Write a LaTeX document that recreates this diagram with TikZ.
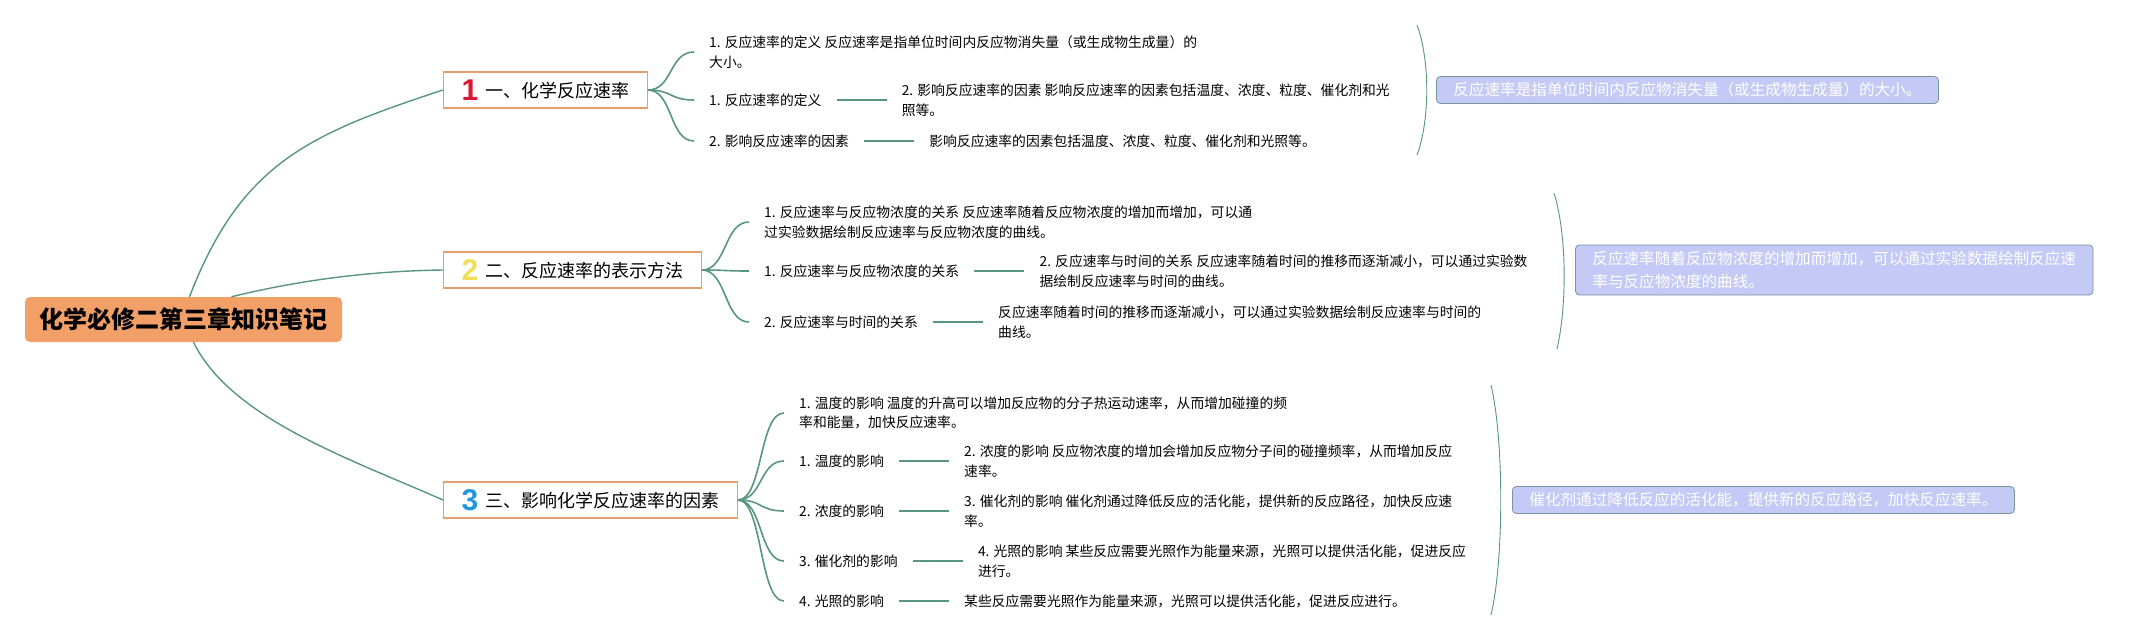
\documentclass[tikz,border=0pt]{standalone}
\usepackage{fontspec}
\setmainfont{Noto Sans CJK SC}
\newfontfamily\numfont{Liberation Sans}
\usetikzlibrary{positioning}

\definecolor{linkgreen}{RGB}{88,150,128}
\definecolor{topicorange}{RGB}{232,158,108}
\definecolor{rootorange}{RGB}{242,160,104}
\definecolor{sumfill}{RGB}{196,202,245}
\definecolor{sumdraw}{RGB}{118,150,158}
\definecolor{numred}{RGB}{222,24,52}
\definecolor{numyellow}{RGB}{242,222,86}
\definecolor{numblue}{RGB}{34,150,220}

\def\childsep{50pt}
\newcommand{\topicnum}[2]{\raisebox{-3pt}{\numfont\bfseries\fontsize{30}{30}\selectfont\color{#1}#2}\hspace{7pt}}

\begin{document}
\begin{tikzpicture}[x=1pt, y=-1pt, node distance=\childsep]
		\tikzstyle{root}
		=[rounded corners=5pt, fill=rootorange, minimum width=317pt, minimum height=45pt, font=\fontsize{24}{28}\selectfont\bfseries]
		\tikzstyle{topic}
		=[draw=topicorange, line width=1.2pt, fill=white, anchor=west, minimum height=36pt, inner xsep=18pt, font=\fontsize{18}{22}\selectfont]
		\tikzstyle{child}
		=[anchor=west, inner xsep=15pt, inner ysep=1pt, align=left, font=\fontsize{13.8}{19.5}\selectfont]
		\tikzstyle{summary}
		=[anchor=west, fill=sumfill, draw=sumdraw, line width=0.8pt, rounded corners=4pt, text=white, inner xsep=17pt, inner ysep=6pt, minimum height=27pt, align=left, font=\fontsize{15.6}{23.5}\selectfont]
		\tikzstyle{trunk}
		=[draw=linkgreen, line width=1.4pt]
		\tikzstyle{branch}
		=[draw=linkgreen, line width=1.6pt]
		\tikzstyle{bar}
		=[draw=linkgreen, line width=2.6pt]
		\tikzstyle{brace}
		=[draw=linkgreen, line width=0.9pt]
		
		\fill[white] (0,0) rectangle (2146,640);
		\useasboundingbox (0,0) rectangle (2146,640);
		
		% Draw the root and the main topics
		\node[root] (root) at (183.5,319.5) {化学必修二第三章知识笔记};
		\node[topic] (t1) at (443,90) {\topicnum{numred}{1}一、化学反应速率};
		\node[topic] (t2) at (443,270) {\topicnum{numyellow}{2}二、反应速率的表示方法};
		\node[topic] (t3) at (443,500) {\topicnum{numblue}{3}三、影响化学反应速率的因素};
		
		% Connect the root with every main topic
		\draw[trunk] ([xshift=6pt]root.north) .. controls (241,163) and (309,134) .. (t1.west);
		\draw[trunk] ([xshift=48pt]root.north) .. controls (300,280) and (370,271) .. (t2.west);
		\draw[trunk] ([xshift=10pt]root.south) .. controls (231,419) and (353,460) .. (t3.west);
		
		% First topic
		\node[child] (t1a) at (694,52) {1. 反应速率的定义 反应速率是指单位时间内反应物消失量（或生成物生成量）的\\大小。};
		\node[child] (t1b) at (694,100) {1. 反应速率的定义};
		\node[child, right=of t1b] (t1bd) {2. 影响反应速率的因素 影响反应速率的因素包括温度、浓度、粒度、催化剂和光\\照等。};
		\node[child] (t1c) at (694,141) {2. 影响反应速率的因素};
		\node[child, right=of t1c] (t1cd) {影响反应速率的因素包括温度、浓度、粒度、催化剂和光照等。};
		
		% Second topic
		\node[child] (t2a) at (749,222) {1. 反应速率与反应物浓度的关系 反应速率随着反应物浓度的增加而增加，可以通\\过实验数据绘制反应速率与反应物浓度的曲线。};
		\node[child] (t2b) at (749,271) {1. 反应速率与反应物浓度的关系};
		\node[child, right=of t2b] (t2bd) {2. 反应速率与时间的关系 反应速率随着时间的推移而逐渐减小，可以通过实验数\\据绘制反应速率与时间的曲线。};
		\node[child] (t2c) at (749,322) {2. 反应速率与时间的关系};
		\node[child, right=of t2c] (t2cd) {反应速率随着时间的推移而逐渐减小，可以通过实验数据绘制反应速率与时间的\\曲线。};
		
		% Third topic
		\node[child] (t3a) at (784,413) {1. 温度的影响 温度的升高可以增加反应物的分子热运动速率，从而增加碰撞的频\\率和能量，加快反应速率。};
		\node[child] (t3b) at (784,461) {1. 温度的影响};
		\node[child, right=of t3b] (t3bd) {2. 浓度的影响 反应物浓度的增加会增加反应物分子间的碰撞频率，从而增加反应\\速率。};
		\node[child] (t3c) at (784,511) {2. 浓度的影响};
		\node[child, right=of t3c] (t3cd) {3. 催化剂的影响 催化剂通过降低反应的活化能，提供新的反应路径，加快反应速\\率。};
		\node[child] (t3d) at (784,561) {3. 催化剂的影响};
		\node[child, right=of t3d] (t3dd) {4. 光照的影响 某些反应需要光照作为能量来源，光照可以提供活化能，促进反应\\进行。};
		\node[child] (t3e) at (784,601) {4. 光照的影响};
		\node[child, right=of t3e] (t3ed) {某些反应需要光照作为能量来源，光照可以提供活化能，促进反应进行。};
		
		% Connect every topic with its children
		\foreach \dest in {t1a,t1b,t1c} \draw[branch] (t1.east) .. controls +(25,0) and +(-25,0) .. (\dest.west);
		\foreach \dest in {t2a,t2b,t2c} \draw[branch] (t2.east) .. controls +(25,0) and +(-25,0) .. (\dest.west);
		\foreach \dest in {t3a,t3b,t3c,t3d,t3e} \draw[branch] (t3.east) .. controls +(25,0) and +(-25,0) .. (\dest.west);
		
		% Connect every child with its detail
		\foreach \source in {t1b,t1c,t2b,t2c,t3b,t3c,t3d,t3e} \draw[bar] (\source.east) -- (\source.east -| \source d.west);
		
		% Braces and summaries
		\coordinate (b1top) at (1417,25); \coordinate (b1bot) at (1417,155);
		\draw[brace] (b1top) .. controls (1430,60) and (1430,120) .. (b1bot);
		\node[summary] (s1) at (1436,90) {反应速率是指单位时间内反应物消失量（或生成物生成量）的大小。};
		
		\coordinate (b2top) at (1554,193); \coordinate (b2bot) at (1557,349);
		\draw[brace] (b2top) .. controls (1567,235) and (1567,305) .. (b2bot);
		\node[summary] (s2) at (1575,270) {反应速率随着反应物浓度的增加而增加，可以通过实验数据绘制反应速\\率与反应物浓度的曲线。};
		
		\coordinate (b3top) at (1491,385); \coordinate (b3bot) at (1491,615);
		\draw[brace] (b3top) .. controls (1504,440) and (1504,560) .. (b3bot);
		\node[summary] (s3) at (1512,500) {催化剂通过降低反应的活化能，提供新的反应路径，加快反应速率。};
	\end{tikzpicture}
\end{document}
